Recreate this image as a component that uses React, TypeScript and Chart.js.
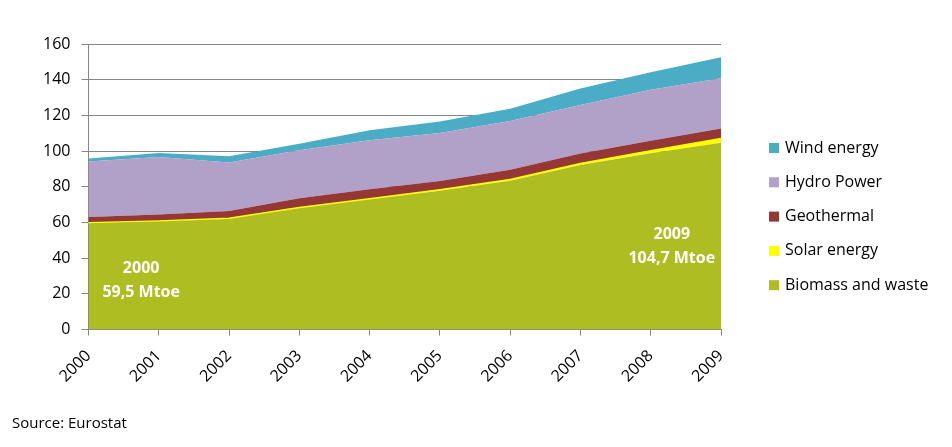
import React, { useEffect, useRef } from "react";
import { Chart, registerables } from "chart.js";

Chart.register(...registerables);

const years = ["2000", "2001", "2002", "2003", "2004", "2005", "2006", "2007", "2008", "2009"];
const biomass = [59.5, 60.5, 62.0, 68.0, 72.8, 77.8, 83.4, 92.2, 98.8, 104.7];
const solar = [0.3, 0.3, 0.4, 0.4, 0.5, 0.6, 0.7, 0.9, 1.4, 2.3];
const geothermal = [3.3, 3.7, 4.0, 5.1, 5.3, 4.9, 5.5, 5.5, 5.6, 5.7];
const hydro = [31.0, 32.2, 27.2, 26.9, 27.5, 26.8, 27.2, 27.2, 28.5, 28.1];
const wind = [1.8, 2.2, 3.5, 3.7, 5.6, 6.5, 6.9, 9.3, 9.9, 11.8];
const yTicks = [0, 20, 40, 60, 80, 100, 120, 140, 160];

const annotations = [
  { xIndex: 0.75, y: 34.2, text: "2000" },
  { xIndex: 0.75, y: 20.8, text: "59,5 Mtoe" },
  { xIndex: 8.3, y: 53.3, text: "2009" },
  { xIndex: 8.3, y: 39.9, text: "104,7 Mtoe" },
];

const FONT = "'Open Sans', 'Noto Sans', sans-serif";

const overlayPlugin = {
  id: "overlay",
  afterDatasetsDraw(chart: any) {
    const { ctx, scales, chartArea } = chart;
    ctx.save();
    ctx.fillStyle = "#ffffff";
    ctx.font = `bold 16px ${FONT}`;
    ctx.textAlign = "center";
    ctx.textBaseline = "middle";
    annotations.forEach((a) => {
      const x = scales.x.getPixelForValue(a.xIndex);
      const y = scales.y.getPixelForValue(a.y);
      ctx.fillText(a.text, x, y);
    });
    const ds = chart.data.datasets.slice().reverse();
    const lx = chartArea.right + 48;
    const ly0 = 148;
    const step = 34.3;
    ctx.font = `16px ${FONT}`;
    ctx.textAlign = "left";
    ds.forEach((d: any, i: number) => {
      const cy = ly0 + i * step;
      ctx.fillStyle = d.backgroundColor;
      ctx.fillRect(lx, cy - 5, 10, 10);
      ctx.fillStyle = "#000000";
      ctx.fillText(d.label, lx + 16, cy);
    });
    ctx.restore();
  },
};

export default function App() {
  const ref = useRef<HTMLCanvasElement>(null);
  useEffect(() => {
    document.body.style.margin = "0";
    const mk = (label: string, data: number[], color: string, fill: any, bw = 0) => ({
      label,
      data,
      backgroundColor: color,
      borderColor: color,
      borderWidth: bw,
      pointRadius: 0,
      tension: 0,
      fill,
    });
    const chart = new Chart(ref.current!, {
      type: "line",
      data: {
        labels: years,
        datasets: [
          mk("Biomass and waste", biomass, "#AEBD21", "origin"),
          mk("Solar energy", solar, "#FFFF00", "-1", 1.5),
          mk("Geothermal", geothermal, "#953735", "-1"),
          mk("Hydro Power", hydro, "#B1A0C7", "-1"),
          mk("Wind energy", wind, "#4BACC6", "-1"),
        ],
      },
      options: {
        responsive: false,
        animation: false,
        layout: { padding: { left: 32, right: 231, top: 44, bottom: 50 } },
        plugins: { legend: { display: false }, tooltip: { enabled: false } },
        scales: {
          x: {
            type: "category",
            offset: false,
            grid: { drawOnChartArea: false, drawTicks: true, tickLength: 6, color: "#868686" },
            border: { display: true, color: "#868686" },
            ticks: { maxRotation: 45, minRotation: 45, padding: 11, color: "#000", font: { family: FONT, size: 16 } },
          },
          y: {
            stacked: true,
            min: 0,
            max: 160,
            afterBuildTicks: (axis: any) => {
              axis.ticks = yTicks.map((v) => ({ value: v }));
            },
            grid: { color: "#868686", tickLength: 7, drawTicks: true },
            border: { display: true, color: "#868686" },
            ticks: { padding: 11, color: "#000", font: { family: FONT, size: 16 } },
          },
        },
      },
      plugins: [overlayPlugin],
    });
    return () => chart.destroy();
  }, []);
  return (
    <div style={{ position: "relative", width: 952, height: 447, background: "#fff" }}>
      <canvas ref={ref} width={952} height={447} style={{ display: "block" }} />
      <div
        style={{
          position: "absolute",
          left: 12,
          top: 412,
          fontFamily: FONT,
          fontSize: 15,
          color: "#000",
        }}
      >
        Source: Eurostat
      </div>
    </div>
  );
}
